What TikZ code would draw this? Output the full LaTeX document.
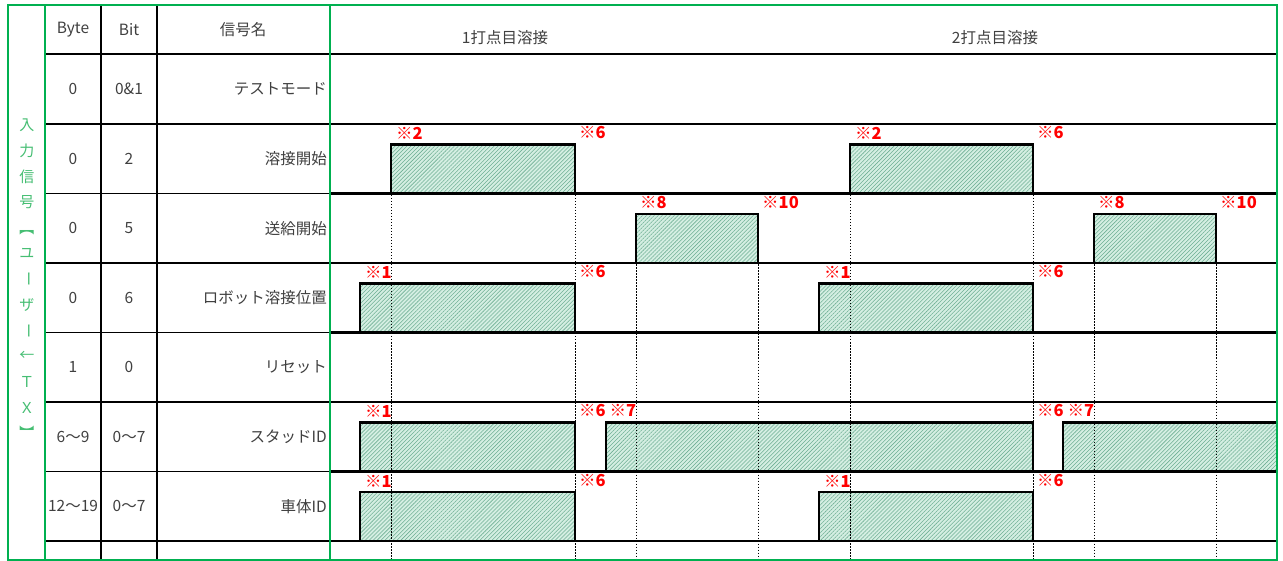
\documentclass[tikz,border=0pt]{standalone}
\usepackage{fontspec}
\setmainfont{Noto Sans CJK JP}
\usepackage{graphicx}
\usetikzlibrary{patterns.meta}
\definecolor{xlgreen}{RGB}{0,176,80}
\definecolor{txtgreen}{RGB}{70,190,115}
\definecolor{hatchbg}{RGB}{212,238,226}
\definecolor{hatchfg}{RGB}{110,175,148}
\definecolor{lblred}{RGB}{255,0,0}
\definecolor{txtgray}{RGB}{64,64,64}
\tikzset{
  tbl/.style={line width=1.4pt,black},
  sig/.style={line width=2.8pt,black,line cap=rect,line join=miter},
  grn/.style={line width=2.6pt,xlgreen},
  dotl/.style={line width=0.9pt,black,dash pattern=on 1.5pt off 1.5pt},
  txt/.style={text=txtgray,font=\fontsize{15.5}{18}\selectfont,inner sep=0pt},
  lab/.style={text=lblred,font=\fontsize{16.5}{18}\selectfont\bfseries,inner sep=0pt,anchor=west},
  vtxt/.style={text=txtgreen,font=\fontsize{15}{17}\selectfont,inner sep=0pt}
}
\newcommand\tdpulse[4]{%
  \fill[hatchbg] (#1,#3) rectangle (#2,#4);
  \fill[pattern={Lines[angle=45,distance=2.8pt,line width=0.55pt]},pattern color=hatchfg] (#1,#3) rectangle (#2,#4);
  \draw[sig] (#1,#3) |- (#2,#4) -- (#2,#3);}
\newcommand\tdpulseopen[4]{%
  \fill[hatchbg] (#1,#3) rectangle (#2,#4);
  \fill[pattern={Lines[angle=45,distance=2.8pt,line width=0.55pt]},pattern color=hatchfg] (#1,#3) rectangle (#2,#4);
  \draw[sig] (#1,#3) |- (#2,#4);}
\begin{document}
\begin{tikzpicture}[x=1pt,y=-1pt]
\useasboundingbox (0,0) rectangle (1283,561);
\fill[white] (0,0) rectangle (1283,561);

% table vertical lines
\draw[tbl] (101,5) -- (101,560);
\draw[tbl] (157,5) -- (157,560);
% header line
\draw[tbl] (45,54) -- (1277,54);
% table horizontal lines
\foreach \b in {124,193.5,263,332.5,402,471.5,541}{
  \draw[tbl] (45,\b) -- (330,\b);
}

% pulses
\tdpulse{391}{575}{193.5}{144.5}
\tdpulse{850}{1033}{193.5}{144.5}
\tdpulse{636}{758}{263}{214}
\tdpulse{1094}{1216}{263}{214}
\tdpulse{360}{575}{332.5}{283.5}
\tdpulse{819}{1033}{332.5}{283.5}
\tdpulse{360}{575}{471.5}{422.5}
\tdpulse{606}{1033}{471.5}{422.5}
\tdpulseopen{1063}{1277}{471.5}{422.5}
\tdpulse{360}{575}{541}{492}
\tdpulse{819}{1033}{541}{492}

% signal baselines
\foreach \b in {124,193.5,263,332.5,402,471.5,541}{
  \draw[sig] (330,\b) -- (1277,\b);
}

% dotted guide lines
\foreach \x in {391,575,850,1033}{
  \draw[dotl] (\x,195) -- (\x,560);
}
\foreach \x in {636,758,1094,1216}{
  \draw[dotl] (\x,264.5) -- (\x,560);
}

% red labels
\node[lab] (l1) at (396,133) {※2};
\node[lab] (l2) at (579,133) {※6};
\node[lab] (l3) at (855,133) {※2};
\node[lab] (l4) at (1037,133) {※6};
\node[lab] (l5) at (640,203) {※8};
\node[lab] (l6) at (762,203) {※10};
\node[lab] (l7) at (1098,203) {※8};
\node[lab] (l8) at (1220,203) {※10};
\node[lab] (l9) at (365,272) {※1};
\node[lab] (l10) at (579,272) {※6};
\node[lab] (l11) at (824,272) {※1};
\node[lab] (l12) at (1037,272) {※6};
\node[lab] (l13) at (365,411) {※1};
\node[lab] (l14) at (579,411) {※6 ※7};
\node[lab] (l15) at (1037,411) {※6 ※7};
\node[lab] (l16) at (365,481) {※1};
\node[lab] (l17) at (579,481) {※6};
\node[lab] (l18) at (824,481) {※1};
\node[lab] (l19) at (1037,481) {※6};

% header texts
\node[txt] (hbyte) at (73,30) {Byte};
\node[txt] (hbit) at (129,30) {Bit};
\node[txt] (hname) at (243,30) {信号名};
\node[txt] (hw1) at (505,38) {1打点目溶接};
\node[txt] (hw2) at (995,38) {2打点目溶接};

% row texts
\foreach \y/\by/\bi/\nm [count=\i] in {
  89/0/0\&1/テストモード,
  158.75/0/2/溶接開始,
  228.25/0/5/送給開始,
  297.75/0/6/ロボット溶接位置,
  367.25/1/0/リセット,
  436.75/6～9/0～7/スタッドID,
  506.25/12～19/0～7/車体ID}{
  \node[txt] (by\i) at (73,\y) {\by};
  \node[txt] (bi\i) at (129,\y) {\bi};
  \node[txt,anchor=east] (nm\i) at (327,\y) {\nm};
}

% vertical green text
\foreach \c [count=\i from 0] in {入,力,信,号,\rotatebox{-90}{【},ユ,\rotatebox{-90}{ー},ザ,\rotatebox{-90}{ー},←,Ｔ,Ｘ,\rotatebox{-90}{】}}{
  \node[vtxt] (v\i) at (27,125+\i*25.7) {\c};
}

% green frame
\draw[grn] (8,5) rectangle (1277,560);
\draw[grn] (45,5) -- (45,560);
\draw[grn] (330,5) -- (330,560);
\end{tikzpicture}
\end{document}
